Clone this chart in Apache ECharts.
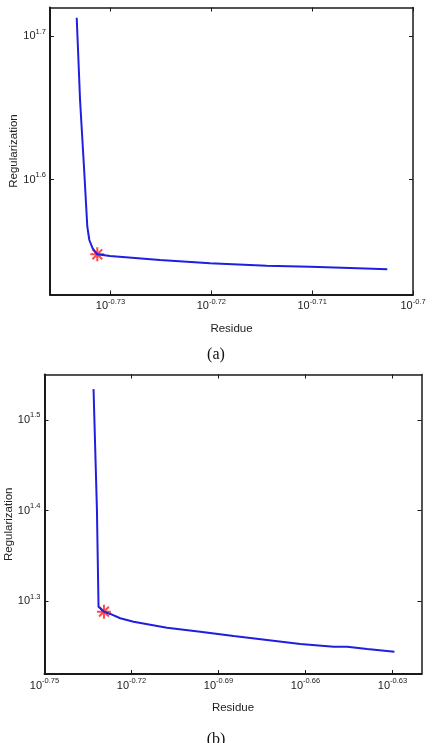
<!DOCTYPE html>
<html>
<head>
<meta charset="utf-8">
<script src="https://cdn.jsdelivr.net/npm/echarts@6/dist/echarts.min.js"></script>
<style>
  html, body { margin: 0; padding: 0; background: #fff; }
  #main { width: 432px; height: 743px; }
</style>
</head>
<body>
<div id="main"></div>
<script>
// values are log10 of residue / regularization
const residueA = [-0.73335, -0.73302, -0.73263, -0.73230, -0.73210, -0.73177, -0.73131, -0.73005, -0.72509, -0.72013, -0.71451, -0.71021, -0.70625, -0.70255];
const regularA = [1.71289, 1.65554, 1.60906, 1.56725, 1.55798, 1.55220, 1.54801, 1.54683, 1.54404, 1.54174, 1.54007, 1.53937, 1.53847, 1.53756];
const cornerA = [-0.73131, 1.54801];

const residueB = [-0.73309, -0.73192, -0.73137, -0.72950, -0.72733, -0.72388, -0.71929, -0.70776, -0.69627, -0.68478, -0.67326, -0.66177, -0.65028, -0.64565, -0.63875, -0.62933];
const regularB = [1.53390, 1.40083, 1.29421, 1.28870, 1.28616, 1.28142, 1.27767, 1.27106, 1.26665, 1.26190, 1.25749, 1.25309, 1.25011, 1.25011, 1.24757, 1.24460];
const cornerB = [-0.72950, 1.28870];

const xTicksA = [-0.73, -0.72, -0.71, -0.7];
const yTicksA = [1.6, 1.7];
const xTicksB = [-0.75, -0.72, -0.69, -0.66, -0.63];
const yTicksB = [1.3, 1.4, 1.5];

const font = "Liberation Sans";
const axisColor = "#1a1a1a";
const star = "path://M0 -10 L0 10 M-10 0 L10 0 M-7 -7 L7 7 M-7 7 L7 -7";

function pow10(v) {
  return "{b|10}{s|" + v + "}";
}
const rich = {
  b: { fontSize: 11, fontFamily: font, color: "#222", lineHeight: 13 },
  s: { fontSize: 7.5, fontFamily: font, color: "#222", padding: [0, 0, 9, 0] },
};

function xAxisPair(grid, min, max, ticks) {
  return [
    {
      gridIndex: grid, type: "value", min: min, max: max,
      name: "Residue", nameLocation: "middle", nameGap: 28, nameMoveOverlap: false,
      nameTextStyle: { fontFamily: font, fontSize: 11.5, color: "#222" },
      axisLine: { lineStyle: { color: axisColor, width: 2 } },
      axisTick: { inside: true, length: 4, customValues: ticks, lineStyle: { color: axisColor } },
      axisLabel: { customValues: ticks, margin: 3, formatter: pow10, rich: rich },
      splitLine: { show: false },
    },
    {
      gridIndex: grid, type: "value", min: min, max: max, position: "top",
      axisLine: { lineStyle: { color: axisColor, width: 1.5 } },
      axisTick: { inside: true, length: 4, customValues: ticks, lineStyle: { color: axisColor } },
      axisLabel: { show: false },
      splitLine: { show: false },
    },
  ];
}

function yAxisPair(grid, min, max, ticks, gap) {
  return [
    {
      gridIndex: grid, type: "value", min: min, max: max,
      name: "Regularization", nameLocation: "middle", nameGap: gap, nameRotate: 90, nameMoveOverlap: false,
      nameTextStyle: { fontFamily: font, fontSize: 11.5, color: "#222" },
      axisLine: { show: true, lineStyle: { color: axisColor, width: 2 } },
      axisTick: { show: true, inside: true, length: 4, customValues: ticks, lineStyle: { color: axisColor } },
      axisLabel: { customValues: ticks, margin: 4, formatter: pow10, rich: rich },
      splitLine: { show: false },
    },
    {
      gridIndex: grid, type: "value", min: min, max: max, position: "right",
      axisLine: { show: true, lineStyle: { color: axisColor, width: 1.5 } },
      axisTick: { show: true, inside: true, length: 4, customValues: ticks, lineStyle: { color: axisColor } },
      axisLabel: { show: false },
      splitLine: { show: false },
    },
  ];
}

function zip(xs, ys) {
  return xs.map((x, i) => [x, ys[i]]);
}

const chart = echarts.init(document.getElementById("main"));
chart.setOption({
  animation: false,
  backgroundColor: "#fff",
  title: [
    { text: "(a)", left: "center", top: 342, textStyle: { fontFamily: "Liberation Serif", fontSize: 16, fontWeight: "normal", color: "#111" } },
    { text: "(b)", left: "center", top: 727, textStyle: { fontFamily: "Liberation Serif", fontSize: 16, fontWeight: "normal", color: "#111" } },
  ],
  grid: [
    { left: 50, top: 7.5, width: 363, height: 287, containLabel: false, outerBoundsMode: "none" },
    { left: 44.5, top: 374.5, width: 377, height: 299.5, containLabel: false, outerBoundsMode: "none" },
  ],
  xAxis: [].concat(xAxisPair(0, -0.736, -0.7, xTicksA), xAxisPair(1, -0.75, -0.62, xTicksB)),
  yAxis: [].concat(yAxisPair(0, 1.52, 1.72, yTicksA, 30), yAxisPair(1, 1.22, 1.55, yTicksB, 29.5)),
  series: [
    {
      type: "line", xAxisIndex: 0, yAxisIndex: 0, data: zip(residueA, regularA),
      showSymbol: false, lineStyle: { color: "#1f1fe0", width: 2 },
    },
    {
      type: "scatter", xAxisIndex: 0, yAxisIndex: 0, data: [cornerA],
      symbol: star, symbolSize: 14,
      itemStyle: { color: "transparent", borderColor: "#ff1a1a", borderWidth: 2 },
    },
    {
      type: "line", xAxisIndex: 2, yAxisIndex: 2, data: zip(residueB, regularB),
      showSymbol: false, lineStyle: { color: "#1f1fe0", width: 2 },
    },
    {
      type: "scatter", xAxisIndex: 2, yAxisIndex: 2, data: [cornerB],
      symbol: star, symbolSize: 14,
      itemStyle: { color: "transparent", borderColor: "#ff1a1a", borderWidth: 2 },
    },
  ],
});
</script>
</body>
</html>
